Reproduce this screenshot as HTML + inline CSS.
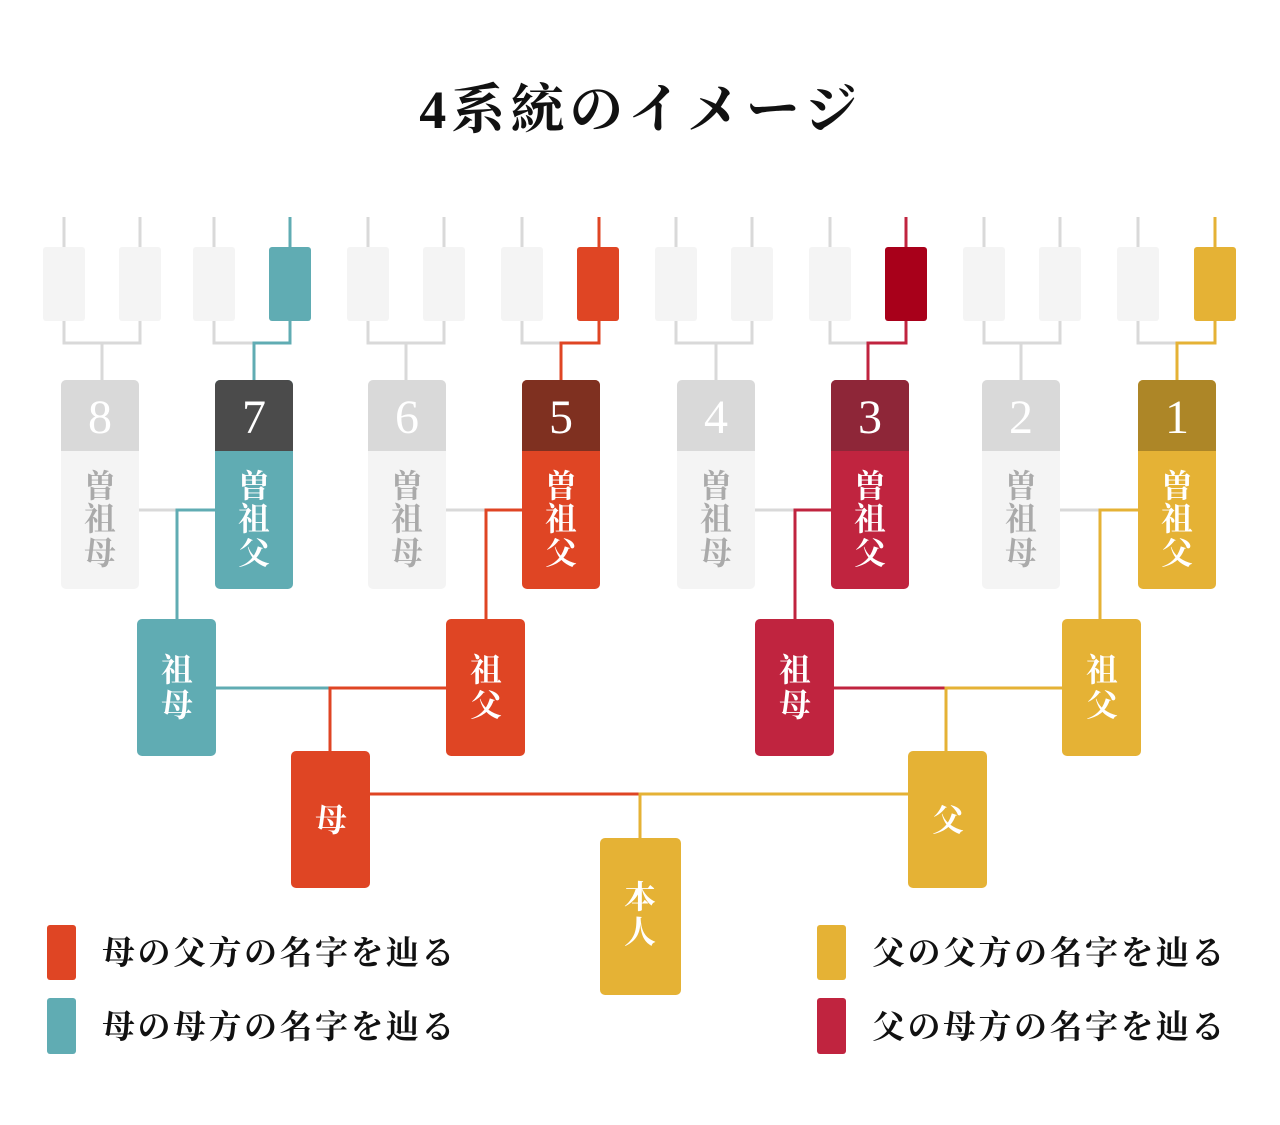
<!DOCTYPE html>
<html><head><meta charset="utf-8"><style>
html,body{margin:0;padding:0;background:#fff}
svg{display:block}
text{font-family:"Liberation Serif","Noto Serif CJK SC","Noto Serif CJK JP",serif;font-weight:bold}
text.num{font-weight:normal}
</style></head><body>
<svg width="1280" height="1125" viewBox="0 0 1280 1125" xmlns="http://www.w3.org/2000/svg">
<text x="641" y="128" font-size="54" letter-spacing="5" text-anchor="middle" fill="#111">4系統のイメージ</text>

<g fill="none" stroke-width="3">
<g stroke="#d9d9d9">
<path d="M64 217V247M140 217V247M214 217V247M368 217V247M444 217V247M522 217V247M676 217V247M752 217V247M830 217V247M984 217V247M1060 217V247M1138 217V247"/>
<path d="M64 321V343H140V321M102 343V380"/>
<path d="M368 321V343H444V321M406 343V380"/>
<path d="M676 321V343H752V321M716 343V380"/>
<path d="M984 321V343H1060V321M1021 343V380"/>
<path d="M214 321V343H254M522 321V343H561M830 321V343H868M1138 321V343H1177"/>
<path d="M139 510H177M446 510H486M755 510H795M1060 510H1100"/>
</g>
<g stroke="#60acb3"><path d="M290 217V247M290 321V343H254V380M215 510H177V619M216 688H330"/></g>
<g stroke="#df4524"><path d="M599 217V247M599 321V343H561V380M522 510H486V619M446 688H330V751M370 794H640"/></g>
<g stroke="#c0243f"><path d="M906 217V247M906 321V343H868V380M831 510H795V619M834 688H946"/></g>
<g stroke="#e5b235"><path d="M1215 217V247M1215 321V343H1177V380M1138 510H1100V619M1062 688H946V751M908 794H640V838"/></g>
</g>

<g fill="#f4f4f4">
<rect x="43" y="247" width="42" height="74" rx="3"/><rect x="119" y="247" width="42" height="74" rx="3"/><rect x="193" y="247" width="42" height="74" rx="3"/>
<rect x="347" y="247" width="42" height="74" rx="3"/><rect x="423" y="247" width="42" height="74" rx="3"/><rect x="501" y="247" width="42" height="74" rx="3"/>
<rect x="655" y="247" width="42" height="74" rx="3"/><rect x="731" y="247" width="42" height="74" rx="3"/><rect x="809" y="247" width="42" height="74" rx="3"/>
<rect x="963" y="247" width="42" height="74" rx="3"/><rect x="1039" y="247" width="42" height="74" rx="3"/><rect x="1117" y="247" width="42" height="74" rx="3"/>
</g>
<rect x="269" y="247" width="42" height="74" rx="3" fill="#60acb3"/>
<rect x="577" y="247" width="42" height="74" rx="3" fill="#df4524"/>
<rect x="885" y="247" width="42" height="74" rx="3" fill="#a8001a"/>
<rect x="1194" y="247" width="42" height="74" rx="3" fill="#e5b235"/>

<g>
<rect x="61" y="380" width="78" height="209" rx="5" fill="#f4f4f4"/><path d="M61 451V385a5 5 0 0 1 5-5h68a5 5 0 0 1 5 5V451Z" fill="#d9d9d9"/>
<rect x="368" y="380" width="78" height="209" rx="5" fill="#f4f4f4"/><path d="M368 451V385a5 5 0 0 1 5-5h68a5 5 0 0 1 5 5V451Z" fill="#d9d9d9"/>
<rect x="677" y="380" width="78" height="209" rx="5" fill="#f4f4f4"/><path d="M677 451V385a5 5 0 0 1 5-5h68a5 5 0 0 1 5 5V451Z" fill="#d9d9d9"/>
<rect x="982" y="380" width="78" height="209" rx="5" fill="#f4f4f4"/><path d="M982 451V385a5 5 0 0 1 5-5h68a5 5 0 0 1 5 5V451Z" fill="#d9d9d9"/>
<rect x="215" y="380" width="78" height="209" rx="5" fill="#60acb3"/><path d="M215 451V385a5 5 0 0 1 5-5h68a5 5 0 0 1 5 5V451Z" fill="#4b4b4b"/>
<rect x="522" y="380" width="78" height="209" rx="5" fill="#df4524"/><path d="M522 451V385a5 5 0 0 1 5-5h68a5 5 0 0 1 5 5V451Z" fill="#7f3020"/>
<rect x="831" y="380" width="78" height="209" rx="5" fill="#c0243f"/><path d="M831 451V385a5 5 0 0 1 5-5h68a5 5 0 0 1 5 5V451Z" fill="#8e2638"/>
<rect x="1138" y="380" width="78" height="209" rx="5" fill="#e5b235"/><path d="M1138 451V385a5 5 0 0 1 5-5h68a5 5 0 0 1 5 5V451Z" fill="#ad8627"/>
</g>
<g font-size="48" fill="#fff" text-anchor="middle">
<text class="num" x="100" y="433">8</text><text class="num" x="254" y="433">7</text><text class="num" x="407" y="433">6</text><text class="num" x="561" y="433">5</text>
<text class="num" x="716" y="433">4</text><text class="num" x="870" y="433">3</text><text class="num" x="1021" y="433">2</text><text class="num" x="1177" y="433">1</text>
</g>
<g font-size="32" text-anchor="middle">
<g fill="#aaaaaa">
<text x="100" y="497">曽</text><text x="100" y="530">祖</text><text x="100" y="564">母</text>
<text x="407" y="497">曽</text><text x="407" y="530">祖</text><text x="407" y="564">母</text>
<text x="716" y="497">曽</text><text x="716" y="530">祖</text><text x="716" y="564">母</text>
<text x="1021" y="497">曽</text><text x="1021" y="530">祖</text><text x="1021" y="564">母</text>
</g>
<g fill="#fff">
<text x="254" y="497">曽</text><text x="254" y="530">祖</text><text x="254" y="564">父</text>
<text x="561" y="497">曽</text><text x="561" y="530">祖</text><text x="561" y="564">父</text>
<text x="870" y="497">曽</text><text x="870" y="530">祖</text><text x="870" y="564">父</text>
<text x="1177" y="497">曽</text><text x="1177" y="530">祖</text><text x="1177" y="564">父</text>
</g>
</g>

<rect x="137" y="619" width="79" height="137" rx="5" fill="#60acb3"/>
<rect x="446" y="619" width="79" height="137" rx="5" fill="#df4524"/>
<rect x="755" y="619" width="79" height="137" rx="5" fill="#c0243f"/>
<rect x="1062" y="619" width="79" height="137" rx="5" fill="#e5b235"/>
<rect x="291" y="751" width="79" height="137" rx="5" fill="#df4524"/>
<rect x="908" y="751" width="79" height="137" rx="5" fill="#e5b235"/>
<rect x="600" y="838" width="81" height="157" rx="5" fill="#e5b235"/>
<g font-size="32" fill="#fff" text-anchor="middle">
<text x="177" y="681">祖</text><text x="177" y="716">母</text>
<text x="486" y="681">祖</text><text x="486" y="716">父</text>
<text x="795" y="681">祖</text><text x="795" y="716">母</text>
<text x="1102" y="681">祖</text><text x="1102" y="716">父</text>
<text x="331" y="831">母</text>
<text x="948" y="831">父</text>
<text x="640" y="908">本</text><text x="640" y="943">人</text>
</g>

<rect x="47" y="925" width="29" height="55" rx="3" fill="#df4524"/>
<rect x="47" y="998" width="29" height="56" rx="3" fill="#60acb3"/>
<rect x="817" y="925" width="29" height="55" rx="3" fill="#e5b235"/>
<rect x="817" y="998" width="29" height="56" rx="3" fill="#c0243f"/>
<g font-size="33" fill="#111" letter-spacing="2.5">
<text x="102" y="964">母の父方の名字を辿る</text>
<text x="102" y="1038">母の母方の名字を辿る</text>
<text x="872" y="964">父の父方の名字を辿る</text>
<text x="872" y="1038">父の母方の名字を辿る</text>
</g>
</svg>
</body></html>
